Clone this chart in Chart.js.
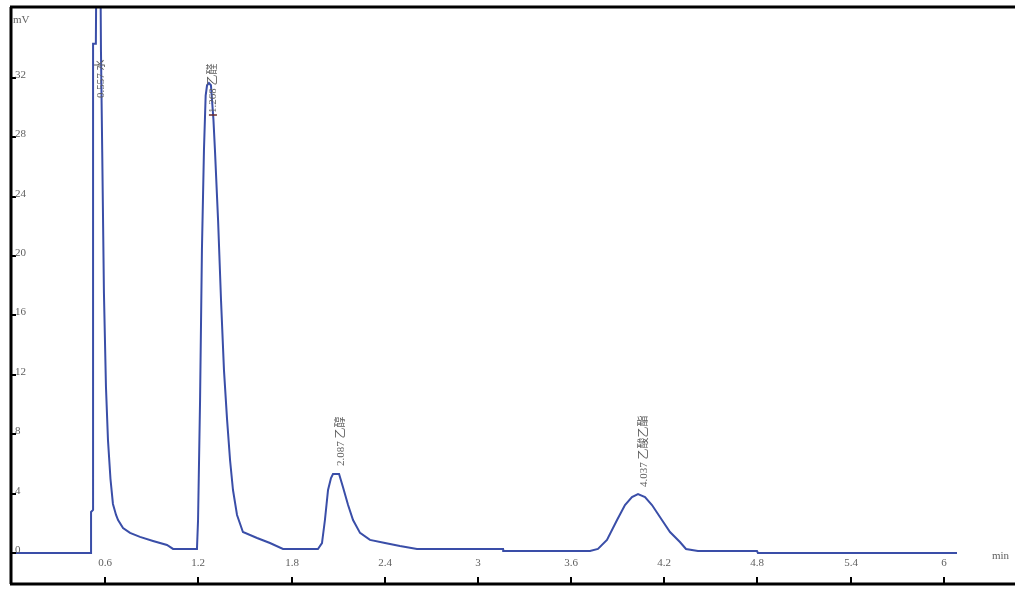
<!DOCTYPE html>
<html>
<head>
<meta charset="utf-8">
<script src="https://cdn.jsdelivr.net/npm/chart.js@4/dist/chart.umd.min.js"></script>
<style>
  html, body { margin: 0; padding: 0; background: #fff; }
  canvas { display: block; }
</style>
</head>
<body>
<canvas id="chrom" width="1031" height="597"></canvas>
<script>
// retention time (min) and detector signal (mV)
const times = [
    0, 0.509, 0.509, 0.522, 0.522, 0.540, 0.556, 0.573, 0.581, 0.592, 0.605, 0.618,
    0.634, 0.650, 0.670, 0.683, 0.715, 0.760, 0.824, 0.908, 0.998, 1.037, 1.191,
    1.198, 1.211, 1.223, 1.236, 1.247, 1.256, 1.268, 1.281, 1.288, 1.297, 1.307,
    1.327, 1.346, 1.365, 1.385, 1.404, 1.423, 1.449, 1.487, 1.578, 1.661, 1.745, 1.938,
    1.970, 1.996, 2.015, 2.035, 2.054, 2.067, 2.106, 2.131, 2.164, 2.196, 2.241,
    2.305, 2.402, 2.498, 2.608, 3.162, 3.163, 3.722,
    3.773, 3.831, 3.896, 3.947, 3.992, 4.031, 4.076, 4.121, 4.185, 4.237, 4.301,
    4.340, 4.417, 4.797, 4.803, 6.085
];
const signal = [
    0, 0, 2.76, 2.90, 34.3, 34.3, 60, 33.7, 27.0, 17.5, 11.2, 7.6,
    5.0, 3.3, 2.56, 2.22, 1.68, 1.35, 1.08, 0.81, 0.54, 0.27, 0.27,
    2.22, 10.3, 20.4, 27.1, 30.8, 31.5, 31.65, 31.5, 30.5, 29.2, 27.1,
    22.4, 17.0, 12.3, 8.96, 6.26, 4.24, 2.56, 1.41, 1.01, 0.67, 0.27, 0.27,
    0.27, 0.67, 2.22, 4.24, 5.05, 5.32, 5.32, 4.44, 3.23, 2.22, 1.35,
    0.88, 0.67, 0.47, 0.27, 0.27, 0.13, 0.13,
    0.27, 0.88, 2.22, 3.23, 3.77, 3.97, 3.77, 3.23, 2.22, 1.41, 0.74,
    0.27, 0.13, 0.13, 0, 0
];

const yTicks = [0, 4, 8, 12, 16, 20, 24, 28, 32];
const xTicks = [0.6, 1.2, 1.8, 2.4, 3, 3.6, 4.2, 4.8, 5.4, 6];
const xTickLabels = ['0.6', '1.2', '1.8', '2.4', '3', '3.6', '4.2', '4.8', '5.4', '6'];

const peakTimes = [0.557, 1.268, 2.087, 4.037];
const peakNames = ['0.557 水', '1.268 乙醛', '2.087 乙醇', '4.037 乙酸乙酯'];

const traceColor = 'rgb(58, 78, 168)';
const textColor = '#5e5e5e';
const serif = '"Liberation Serif", "DejaVu Serif", "Noto Sans CJK SC", serif';

const framePlugin = {
    id: 'frame',
    afterDraw(chart) {
        const ctx = chart.ctx;
        const area = chart.chartArea;
        const xs = chart.scales.x;
        const ys = chart.scales.y;

        ctx.save();
        ctx.strokeStyle = '#000';
        ctx.lineWidth = 3;
        ctx.beginPath();
        ctx.moveTo(area.left - 1, area.top);
        ctx.lineTo(area.left - 1, area.bottom);
        ctx.moveTo(area.left - 2, area.top);
        ctx.lineTo(area.right + 1, area.top);
        ctx.moveTo(area.left - 2, area.bottom);
        ctx.lineTo(area.right + 1, area.bottom);
        ctx.stroke();

        // y ticks, drawn inside the frame
        ctx.lineWidth = 2;
        ctx.font = '11px ' + serif;
        ctx.fillStyle = textColor;
        ctx.textAlign = 'left';
        ctx.textBaseline = 'middle';
        yTicks.forEach(v => {
            const y = Math.round(ys.getPixelForValue(v));
            ctx.beginPath();
            ctx.moveTo(area.left, y);
            ctx.lineTo(area.left + 4, y);
            ctx.stroke();
            ctx.fillText(String(v), area.left + 3, y - 3);
        });

        // x ticks, pointing up from the bottom line
        ctx.textAlign = 'center';
        xTicks.forEach((v, i) => {
            const x = Math.round(xs.getPixelForValue(v));
            ctx.beginPath();
            ctx.moveTo(x, area.bottom);
            ctx.lineTo(x, area.bottom - 7);
            ctx.stroke();
            ctx.fillText(xTickLabels[i], x, area.bottom - 21);
        });

        ctx.textAlign = 'left';
        ctx.fillText('mV', area.left + 1, area.top + 13);
        ctx.fillText('min', 992, area.bottom - 28);

        // peak labels, rotated
        const labelBottom = [98, 113, ys.getPixelForValue(5.32) - 8, ys.getPixelForValue(3.97) - 7];
        const labelShift = [3, 4, 5, 5];
        ctx.font = '11px ' + serif;
        peakTimes.forEach((t, i) => {
            const x = xs.getPixelForValue(t) + labelShift[i];
            ctx.save();
            ctx.translate(x, labelBottom[i]);
            ctx.rotate(-Math.PI / 2);
            ctx.fillText(peakNames[i], 0, 0);
            ctx.restore();
        });

        // peak marker on the second peak
        const mx = xs.getPixelForValue(peakTimes[1]) + 4;
        ctx.strokeStyle = '#6a2b2b';
        ctx.lineWidth = 1.5;
        ctx.beginPath();
        ctx.moveTo(mx - 4, 115);
        ctx.lineTo(mx + 4, 115);
        ctx.stroke();
        ctx.restore();
    }
};

const points = times.map((t, i) => ({ x: t, y: signal[i] }));

new Chart(document.getElementById('chrom'), {
    type: 'line',
    data: {
        datasets: [{
            data: points,
            borderColor: traceColor,
            borderWidth: 2,
            pointRadius: 0,
            tension: 0,
            fill: false
        }]
    },
    options: {
        responsive: false,
        animation: false,
        layout: { padding: { left: 12, top: 7, right: 17, bottom: 13 } },
        plugins: {
            legend: { display: false },
            tooltip: { enabled: false }
        },
        scales: {
            x: { type: 'linear', min: 0, max: 6.452, display: false },
            y: { type: 'linear', min: -2.09, max: 36.77, display: false }
        }
    },
    plugins: [framePlugin]
});
</script>
</body>
</html>
